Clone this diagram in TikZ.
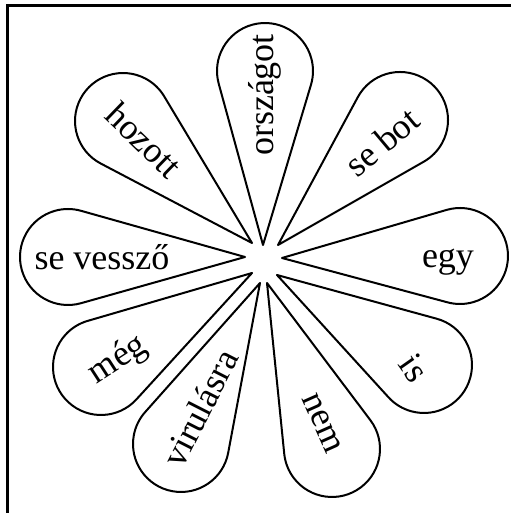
\documentclass[tikz,border=0pt]{standalone}
\usepackage{fontspec}
\setmainfont{Liberation Serif}

\begin{document}
\begin{tikzpicture}[
  x=0.5pt, y=0.5pt,
  petal/.style={draw=black, line width=1pt, line join=round},
  word/.style={font=\fontsize{18}{20}\selectfont, inner sep=0pt},
  frame/.style={line width=1.2pt}
]
\useasboundingbox (-265,-252) rectangle (245,261);

%% Frame (only left and top edges show)
\draw[frame] (-257.5,-260) -- (-257.5,255.5) -- (250,255.5);

%% Petals: tip x/y, centre of round end x/y
\foreach \tx/\ty/\cx/\cy in {-2/16/0/190, 13/16/135/141, 17/3/195/5,
    12/-14/159/-104, 2/-22/67/-188, -5/-22/-84/-183, -13/-12/-164/-106,
    -20/4/-197/4, -13/18/-142/140}{
  \pgfmathsetmacro\len{veclen(\cx-\tx,\cy-\ty)}
  \pgfmathsetmacro\ang{atan2(\cy-\ty,\cx-\tx)}
  \pgfmathsetmacro\bet{acos(48/\len)}
  \draw[petal, shift={(\tx,\ty)}, rotate=\ang]
    (0,0) -- ({\len-48*cos(\bet)},{48*sin(\bet)})
    arc[start angle=180-\bet, end angle=\bet-180, radius=48] -- cycle;
}

%% Words
\node[word, rotate=90]  (orszagot) at (0,166)     {országot};
\node[word, rotate=40]  (sebot)    at (117,119)   {se bot};
\node[word]             (egy)      at (183,-1)    {egy};
\node[word, rotate=-55] (is)       at (149,-107)  {is};
\node[word, rotate=-66] (nem)      at (57,-162)   {nem};
\node[word, rotate=63]  (virul)    at (-65,-147)  {virulásra};
\node[word, rotate=33]  (meg)      at (-147,-99)  {még};
\node[word]             (sevesszo) at (-163,4)    {se vessző};
\node[word, rotate=-44] (hozott)   at (-121,121)  {hozott};

\end{tikzpicture}
\end{document}
